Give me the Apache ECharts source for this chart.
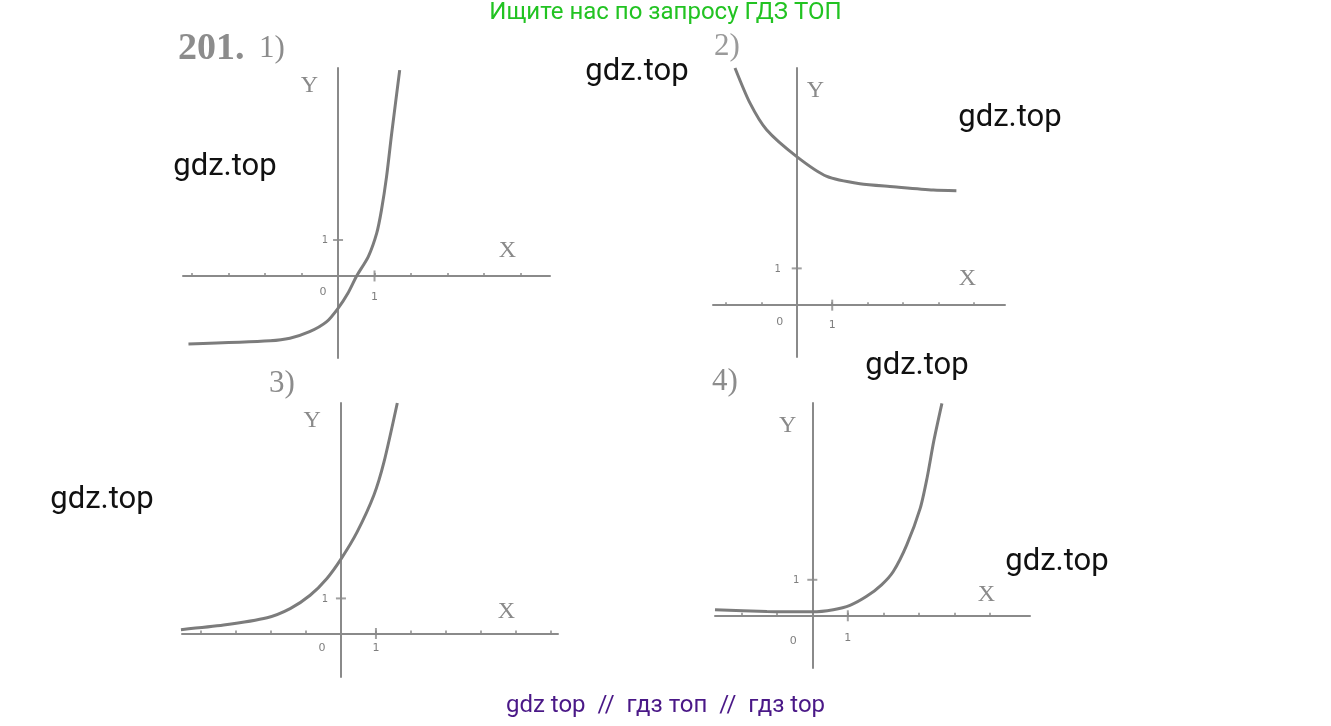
<!DOCTYPE html>
<html><head><meta charset="utf-8">
<script src="https://cdn.jsdelivr.net/npm/echarts@6/dist/echarts.min.js"></script>
<style>html,body{margin:0;padding:0;background:#fff}#c{width:1331px;height:726px}</style>
</head><body><div id="c"></div>
<script>
// ---- data ----
const curve1X = [-4.1, -1.86, -1.32, -0.78, -0.31, 0, 0.27, 0.51, 0.83, 1.06, 1.19, 1.33, 1.47, 1.69];
const curve1Y = [-1.89, -1.80, -1.73, -1.55, -1.27, -0.9, -0.48, 0, 0.54, 1.19, 1.83, 2.76, 3.96, 5.72];
const curve2X = [-1.74, -1.32, -0.85, 0, 0.85, 1.78, 2.72, 3.85, 4.5];
const curve2Y = [6.45, 5.50, 4.77, 4.04, 3.50, 3.30, 3.22, 3.13, 3.11];
const curve3X = [-4.57, -3.35, -2.11, -1.45, -0.88, -0.40, 0, 0.46, 0.94, 1.23, 1.61];
const curve3Y = [0.11, 0.24, 0.45, 0.71, 1.09, 1.57, 2.12, 2.89, 3.94, 4.89, 6.57];
const curve4X = [-2.74, -1.28, 0, 0.59, 1.06, 1.53, 1.95, 2.28, 2.66, 3.04, 3.23, 3.42, 3.65];
const curve4Y = [0.17, 0.12, 0.11, 0.17, 0.29, 0.54, 0.86, 1.23, 1.97, 2.99, 3.82, 4.85, 5.90];

const xTicks1 = [-4, -3, -2, -1, 0, 1, 2, 3, 4, 5];
const xTicks2 = [-2, -1, 0, 1, 2, 3, 4, 5];
const xTicks3 = [-4, -3, -2, -1, 0, 1, 2, 3, 4, 5, 6];
const xTicks4 = [-2, -1, 0, 1, 2, 3, 4, 5];
const xLabelValues = [0, 1];   // labelled on the X axis
const yLabelValues = [1];      // labelled on the Y axis
const unitMarkX = [1, 0];      // the cross tick at x = 1 on the X axis
const unitMarkY = [0, 1];      // the cross tick at y = 1 on the Y axis
const xRange1 = [-4.25, 5.81], yRange1 = [-2.28, 5.78];
const xRange2 = [-2.36, 5.87], yRange2 = [-1.41, 6.45];
const xRange3 = [-4.54, 6.2],  yRange3 = [-1.24, 6.57];
const xRange4 = [-2.74, 6.13], yRange4 = [-1.45, 5.91];
const panelLabels = ['1)', '2)', '3)', '4)'];
const problemNumber = '201.';
const axisNames = ['X', 'Y'];
const headerText = 'Ищите нас по запросу ГДЗ ТОП';
const footerText = 'gdz top  //  гдз топ  //  гдз top';
const watermark = 'gdz.top';

// ---- layout / styling ----
const AXIS = '#8a8a8a', CURVE = '#7c7c7c', LBL = '#5e5e5e';
const panels = [
  {grid:{left:183,top:68,width:367,height:290}, xr:xRange1, yr:yRange1, ticks:xTicks1, cx:curve1X, cy:curve1Y,
   xName:{gap:-34,pb:13}, yName:{gap:-6,side:'left',pad:20}, off0:[-15,16], off1:[0,21], offY:[-13,0]},
  {grid:{left:713,top:68,width:292,height:289}, xr:xRange2, yr:yRange2, ticks:xTicks2, cx:curve2X, cy:curve2Y,
   xName:{gap:-29,pb:14}, yName:{gap:-11,side:'right',pad:10}, off0:[-17,17], off1:[0,20], offY:[-19,1]},
  {grid:{left:182,top:403,width:376,height:274}, xr:xRange3, yr:yRange3, ticks:xTicks3, cx:curve3X, cy:curve3Y,
   xName:{gap:-43,pb:10}, yName:{gap:-6,side:'left',pad:20}, off0:[-19,15], off1:[0,15], offY:[-16,1]},
  {grid:{left:715,top:403,width:315,height:265}, xr:xRange4, yr:yRange4, ticks:xTicks4, cx:curve4X, cy:curve4Y,
   xName:{gap:-35,pb:9}, yName:{gap:-11,side:'left',pad:16}, off0:[-19,25], off1:[0,22], offY:[-16,1]}
];

const grids = [], xAxes = [], yAxes = [], series = [];
const serifName = {fontFamily:'Liberation Serif', fontSize:24, color:'#8a8a8a'};
const tickLabel = {color:LBL, fontSize:11, fontFamily:'DejaVu Sans'};
panels.forEach((p, i) => {
  grids.push(Object.assign({containLabel:false}, p.grid));
  xAxes.push({gridIndex:i, type:'value', position:'bottom', min:p.xr[0], max:p.xr[1],
    axisLine:{show:true, onZero:true, lineStyle:{color:AXIS, width:2}},
    axisTick:{show:true, inside:true, length:3, customValues:p.ticks, lineStyle:{color:AXIS, width:1.5}},
    axisLabel:{show:false}, splitLine:{show:false},
    name:axisNames[0], nameLocation:'end', nameGap:p.xName.gap,
    nameTextStyle:Object.assign({align:'right', verticalAlign:'bottom', padding:[0,0,p.xName.pb,0]}, serifName)});
  yAxes.push({gridIndex:i, type:'value', position:'left', min:p.yr[0], max:p.yr[1],
    axisLine:{show:true, onZero:true, lineStyle:{color:AXIS, width:2}},
    axisTick:{show:false}, axisLabel:{show:false}, splitLine:{show:false},
    name:axisNames[1], nameLocation:'end', nameGap:p.yName.gap,
    nameTextStyle:Object.assign({align:p.yName.side === 'left' ? 'right' : 'left', verticalAlign:'top',
      padding: p.yName.side === 'left' ? [0,p.yName.pad,0,0] : [0,0,0,p.yName.pad]}, serifName)});
  series.push({type:'line', xAxisIndex:i, yAxisIndex:i, data:p.cx.map((x,k)=>[x,p.cy[k]]),
    smooth:0.25, showSymbol:false, clip:false, silent:true,
    lineStyle:{color:CURVE, width:3}});
  // unit cross ticks
  series.push({type:'scatter', xAxisIndex:i, yAxisIndex:i, silent:true, clip:false,
    data:[unitMarkX], symbol:'rect', symbolSize:[2,11], itemStyle:{color:AXIS}});
  series.push({type:'scatter', xAxisIndex:i, yAxisIndex:i, silent:true, clip:false,
    data:[unitMarkY], symbol:'rect', symbolSize:[10,2], itemStyle:{color:AXIS}});
  // tick labels "0", "1" on X and "1" on Y, placed through the axes' scales
  series.push({type:'scatter', xAxisIndex:i, yAxisIndex:i, silent:true, clip:false,
    symbol:'circle', symbolSize:0.1, itemStyle:{color:'rgba(0,0,0,0)'},
    data:xLabelValues.map(v => ({value:[v, 0], label:{offset: v === 0 ? p.off0 : p.off1}})),
    label:Object.assign({show:true, position:'inside', formatter: d => String(d.value[0])}, tickLabel)});
  series.push({type:'scatter', xAxisIndex:i, yAxisIndex:i, silent:true, clip:false,
    symbol:'circle', symbolSize:0.1, itemStyle:{color:'rgba(0,0,0,0)'},
    data:yLabelValues.map(v => [0, v]),
    label:Object.assign({show:true, position:'inside', offset:p.offY, formatter: d => String(d.value[1])}, tickLabel, {fontSize:10})});
});

const wmStyle = {fontFamily:'Roboto', fontSize:31, fill:'#111'};
const wmPos = [[225,167],[637,72],[1010,118],[917,366],[102,500],[1057,562]];
const graphic = [
  {type:'text', left:'center', top:1, style:{text:headerText, fontFamily:'Roboto', fontSize:24, fill:'#22c322'}},
  {type:'text', left:'center', top:694, style:{text:footerText, fontFamily:'Roboto', fontSize:24, fill:'#4a1887'}},
  {type:'text', x:178, y:30, style:{text:problemNumber, fontFamily:'Liberation Serif', fontWeight:'bold', fontSize:38, fill:'#8c8c8c'}},
  {type:'text', x:259, y:33, style:{text:panelLabels[0], fontFamily:'Liberation Serif', fontSize:31, fill:'#8c8c8c'}},
  {type:'text', x:714, y:31, style:{text:panelLabels[1], fontFamily:'Liberation Serif', fontSize:31, fill:'#9a9a9a'}},
  {type:'text', x:269, y:368, style:{text:panelLabels[2], fontFamily:'Liberation Serif', fontSize:31, fill:'#8c8c8c'}},
  {type:'text', x:712, y:366, style:{text:panelLabels[3], fontFamily:'Liberation Serif', fontSize:31, fill:'#8c8c8c'}}
].concat(wmPos.map(c => ({type:'text', x:c[0], y:c[1], style:Object.assign({text:watermark, align:'center', verticalAlign:'middle'}, wmStyle)})));

const chart = echarts.init(document.getElementById('c'), null, {renderer:'canvas'});
chart.setOption({animation:false, backgroundColor:'#fff', grid:grids, xAxis:xAxes, yAxis:yAxes, series:series, graphic:graphic});
</script></body></html>
